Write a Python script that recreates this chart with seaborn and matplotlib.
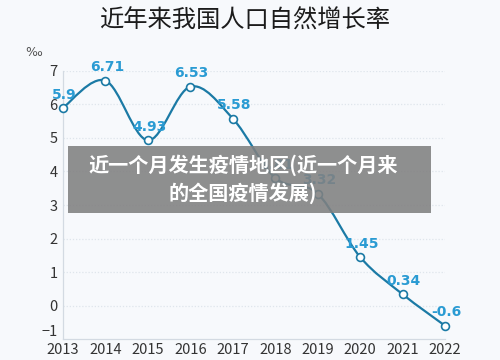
import numpy as np
import pandas as pd
import matplotlib.pyplot as plt
import seaborn as sns
from matplotlib.path import Path
from matplotlib.patches import PathPatch, Rectangle

# data
years = [2013, 2014, 2015, 2016, 2017, 2018, 2019, 2020, 2021, 2022]
rates = [5.9, 6.71, 4.93, 6.53, 5.58, 3.81, 3.34, 1.45, 0.34, -0.6]
labels = ['5.9', '6.71', '4.93', '6.53', '5.58', '3.81', '3.32', '1.45', '0.34', '-0.6']
y_ticks = [-1, 0, 1, 2, 3, 4, 5, 6, 7]

title = '近年来我国人口自然增长率'
overlay = '近一个月发生疫情地区(近一个月来\n的全国疫情发展)'

df = pd.DataFrame({'year': years, 'rate': rates})

sns.set_style('white')
plt.rcParams['font.family'] = ['Noto Sans CJK SC', 'DejaVu Sans']

bg = '#f7f9fc'
line_col = '#1b7aa5'
lab_col = '#2a9bd3'

fig = plt.figure(figsize=(5, 3.6), dpi=100, facecolor=bg)
ax = fig.add_axes([0.126, 0.058, 0.764, 0.745])
ax.set_facecolor(bg)

# smooth curve through the points (Catmull-Rom as bezier segments)
pts = np.column_stack([df['year'], df['rate']]).astype(float)
ext = np.vstack([pts[0], pts, pts[-1]])
verts = [tuple(pts[0])]
codes = [Path.MOVETO]
for i in range(len(pts) - 1):
    p0, p1, p2, p3 = ext[i], ext[i + 1], ext[i + 2], ext[i + 3]
    c1 = p1 + (p2 - p0) / 6
    c2 = p2 - (p3 - p1) / 6
    verts += [tuple(c1), tuple(c2), tuple(p2)]
    codes += [Path.CURVE4] * 3
ax.add_patch(PathPatch(Path(verts, codes), fill=False, edgecolor=line_col,
                       lw=1.6, transform=ax.transData, zorder=3, clip_on=False))

sns.scatterplot(data=df, x='year', y='rate', ax=ax, s=32, color='white',
                edgecolor=line_col, linewidth=1.2, zorder=4, clip_on=False)

for x, y, t in zip(years, rates, labels):
    ax.annotate(t, (x, y), xytext=(1, 4.5), textcoords='offset points',
                ha='center', va='bottom', fontsize=10, fontweight='bold',
                color=lab_col, family=['DejaVu Sans'], zorder=5)

ax.set_xlim(2013, 2022)
ax.set_ylim(-1, 7)
ax.set_xticks(years)
ax.set_yticks(y_ticks)
ax.set_xlabel('')
ax.set_ylabel('')
for yv in y_ticks[1:]:
    ax.axhline(yv, color='#dfe5ec', lw=0.9, ls=(0, (1, 1.5)), zorder=1)
ax.tick_params(axis='both', labelsize=10.5, colors='#cfd7df', labelcolor='#333333',
               length=3, width=0.8, pad=1)
ax.tick_params(axis='x', direction='in', pad=3)
ax.get_yticklabels()[0].set_va('bottom')
for s in ['top', 'right']:
    ax.spines[s].set_visible(False)
for s in ['left', 'bottom']:
    ax.spines[s].set_color('#d3dae2')
    ax.spines[s].set_linewidth(0.9)

fig.text(0.49, 0.944, title, ha='center', va='center', fontsize=17.5, color='#1c1c1c')
fig.text(0.05, 0.853, '‰', ha='left', va='center', fontsize=9, color='#555555',
         family=['DejaVu Sans'])

# grey overlay box
fig.patches.append(Rectangle((68 / 500, 1 - 213 / 360), 363 / 500, 67 / 360,
                             transform=fig.transFigure, facecolor='#808080',
                             alpha=0.88, edgecolor='none', zorder=10))
fig.text(243 / 500, 1 - 179 / 360, overlay, ha='center', va='center',
         multialignment='center', fontsize=14.5, fontweight='bold', color='white',
         linespacing=1.35, zorder=11)

fig.savefig('out.png', dpi=100, facecolor=bg)
